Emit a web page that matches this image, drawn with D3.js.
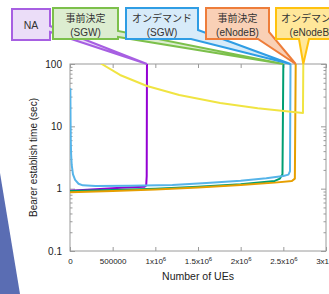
<!DOCTYPE html>
<html>
<head>
<meta charset="utf-8">
<script src="https://cdn.jsdelivr.net/npm/d3@7"></script>
<style>
body { margin: 0; background: #fff; }
svg { display: block; font-family: "Liberation Sans", Arial, "Noto Sans CJK JP", sans-serif; }
</style>
</head>
<body>
<div id="chart"></div>
<script>
// series (UEs -> bearer establish time in sec)
const naUEs   = [0, 300000, 600000, 870000, 893000, 899000, 902000];
const naTime  = [0.93, 0.98, 1.03, 1.07, 1.13, 1.6, 100];

const sgwPreUEs  = [0, 500000, 1000000, 1500000, 2000000, 2400000, 2460000, 2490000, 2500000];
const sgwPreTime = [0.92, 0.95, 1.0, 1.07, 1.18, 1.33, 1.45, 1.7, 100];

const sgwOnUEs  = [4000, 5000, 6500, 9000, 13000, 20000, 35000, 60000, 100000, 150000, 300000, 700000, 1200000, 1600000, 2000000, 2300000, 2500000, 2560000, 2578000, 2584000];
const sgwOnTime = [41, 25, 12, 6, 3.6, 2.4, 1.7, 1.38, 1.2, 1.13, 1.1, 1.11, 1.15, 1.23, 1.34, 1.47, 1.6, 1.68, 1.9, 100];

const enbPreUEs  = [0, 500000, 1000000, 1500000, 2000000, 2400000, 2600000, 2635000, 2645000];
const enbPreTime = [0.88, 0.92, 0.97, 1.04, 1.14, 1.25, 1.33, 1.45, 100];

const enbOnUEs  = [320000, 371000, 586000, 902000, 1280000, 1760000, 2200000, 2730000, 2734000];
const enbOnTime = [118, 100, 66.7, 44.4, 31.9, 23.7, 19.5, 16.4, 100];

const xTicks    = [0, 500000, 1000000, 1500000, 2000000, 2500000, 3000000];
const xTickBase = ["0", "500000", "1x10", "1.5x10", "2x10", "2.5x10", "3x10"];
const xTickExp  = ["", "", "6", "6", "6", "6", "6"];
const yTicks      = [0.1, 1, 10, 100];
const yTickLabels = ["0.1", "1", "10", "100"];

const calloutLine1 = ["NA", "事前決定", "オンデマンド", "事前決定", "オンデマンド"];
const calloutLine2 = ["", "(SGW)", "(SGW)", "(eNodeB)", "(eNodeB)"];

const seriesUEs  = [naUEs, sgwPreUEs, sgwOnUEs, enbPreUEs, enbOnUEs];
const seriesTime = [naTime, sgwPreTime, sgwOnTime, enbPreTime, enbOnTime];
const lineColors = ["#9400d3", "#009e73", "#56b4e9", "#e69f00", "#f0e442"];

// callout look and placement
const boxStroke = ["#a75fe2", "#7cc04b", "#2f9de4", "#ee7d3a", "#ffc20e"];
const boxFill   = ["#ebddf8", "#dcedd0", "#d7ebf9", "#f9d0b6", "#ffe79a"];
const boxes = [
    {x: 12,  y: 9, w: 38, h: 31, side: "right",  a: 17, b: 23},
    {x: 53,  y: 8, w: 65, h: 31, side: "right",  a: 23, b: 29},
    {x: 126, y: 8, w: 72, h: 31, side: "corner", a: 22, b: 65},
    {x: 206, y: 8, w: 63, h: 31, side: "corner", a: 24, b: 52},
    {x: 276, y: 8, w: 70, h: 31, side: "bottom", a: 23, b: 33}
];

var width = 329, height = 294;
var svg = d3.select("#chart").append("svg")
    .attr("width", width)
    .attr("height", height);

svg.append("rect").attr("width", width).attr("height", height).attr("fill", "#fff");

// decorative slide shape at the left
svg.append("path")
    .attr("d", "M0,173 L20,294 L0,294 Z")
    .attr("fill", "#5a6db3");

var xAxis = d3.scaleLinear().domain([0, 3000000]).range([70, 326]);
var yAxis = d3.scaleLog().domain([0.1, 100]).range([251, 64]);

var minor = [];
[0.1, 1, 10].forEach(p => d3.range(2, 10).forEach(k => minor.push(p * k)));

const grey = "#9a9a9a";

function styleAxis(g) {
    g.select(".domain").remove();
    g.selectAll(".tick line").attr("stroke", grey);
    g.selectAll(".tick text").attr("fill", "#222");
}

// bottom
svg.append("g")
    .attr("transform", `translate(0, ${yAxis(0.1)})`)
    .call(d3.axisBottom(xAxis).tickValues(xTicks).tickSize(-4).tickSizeOuter(0).tickPadding(7))
    .call(styleAxis)
    .call(g => g.selectAll(".tick text")
        .attr("font-size", 8)
        .text((d, i) => xTickBase[i])
        .each(function(d, i) {
            if (xTickExp[i]) d3.select(this).append("tspan")
                .attr("dy", "-0.45em").attr("font-size", 6).text(xTickExp[i]);
        }));
// top
svg.append("g")
    .attr("transform", `translate(0, ${yAxis(100)})`)
    .call(d3.axisTop(xAxis).tickValues(xTicks).tickSize(-4).tickSizeOuter(0).tickFormat(""))
    .call(styleAxis);
// left
svg.append("g")
    .attr("transform", `translate(${xAxis(0)}, 0)`)
    .call(d3.axisLeft(yAxis).tickValues(yTicks).tickSize(-5).tickSizeOuter(0).tickPadding(8)
        .tickFormat((d, i) => yTickLabels[i]))
    .call(styleAxis)
    .call(g => g.selectAll(".tick text").attr("font-size", 10));
svg.append("g")
    .attr("transform", `translate(${xAxis(0)}, 0)`)
    .call(d3.axisLeft(yAxis).tickValues(minor).tickSize(-2.5).tickSizeOuter(0).tickFormat(""))
    .call(styleAxis);
// right
svg.append("g")
    .attr("transform", `translate(${xAxis(3000000)}, 0)`)
    .call(d3.axisRight(yAxis).tickValues(yTicks).tickSize(-5).tickSizeOuter(0).tickFormat(""))
    .call(styleAxis);
svg.append("g")
    .attr("transform", `translate(${xAxis(3000000)}, 0)`)
    .call(d3.axisRight(yAxis).tickValues(minor).tickSize(-2.5).tickSizeOuter(0).tickFormat(""))
    .call(styleAxis);

// frame
svg.append("rect")
    .attr("x", xAxis(0)).attr("y", yAxis(100))
    .attr("width", xAxis(3000000) - xAxis(0))
    .attr("height", yAxis(0.1) - yAxis(100))
    .attr("fill", "none").attr("stroke", grey).attr("stroke-width", 1);

// axis titles
svg.append("text")
    .attr("x", (xAxis(0) + xAxis(3000000)) / 2).attr("y", 280)
    .attr("text-anchor", "middle").attr("font-size", 10.5).attr("fill", "#222")
    .text("Number of UEs");
svg.append("text")
    .attr("transform", `translate(37, ${(yAxis(0.1) + yAxis(100)) / 2}) rotate(-90)`)
    .attr("text-anchor", "middle").attr("font-size", 10).attr("fill", "#222")
    .text("Bearer establish time (sec)");

// lines
svg.append("clipPath").attr("id", "plotClip")
    .append("rect")
    .attr("x", xAxis(0)).attr("y", yAxis(100))
    .attr("width", xAxis(3000000) - xAxis(0))
    .attr("height", yAxis(0.1) - yAxis(100));

var line = d3.line()
    .x(d => xAxis(d[0]))
    .y(d => yAxis(d[1]));

seriesUEs.forEach((ues, i) => {
    svg.append("path")
        .datum(ues.map((u, j) => [u, seriesTime[i][j]]))
        .attr("clip-path", "url(#plotClip)")
        .attr("fill", "none")
        .attr("stroke", lineColors[i])
        .attr("stroke-width", 2)
        .attr("stroke-linejoin", "round")
        .attr("d", line);
});

// callouts pointing at the top of each curve
function calloutPath(c, tip) {
    const x0 = c.x, y0 = c.y, x1 = c.x + c.w, y1 = c.y + c.h;
    let pts;
    if (c.side === "right")
        pts = [[x0, y0], [x1, y0], [x1, y0 + c.a], tip, [x1, y0 + c.b], [x1, y1], [x0, y1]];
    else if (c.side === "corner")
        pts = [[x0, y0], [x1, y0], [x1, y0 + c.a], tip, [x0 + c.b, y1], [x0, y1]];
    else
        pts = [[x0, y0], [x1, y0], [x1, y1], [x0 + c.b, y1], tip, [x0 + c.a, y1], [x0, y1]];
    return d3.line()(pts) + "Z";
}

boxes.forEach((c, i) => {
    const tip = [xAxis(d3.max(seriesUEs[i])), yAxis(100)];
    svg.append("path")
        .attr("d", calloutPath(c, tip))
        .attr("fill", boxFill[i])
        .attr("stroke", boxStroke[i])
        .attr("stroke-width", 2)
        .attr("stroke-linejoin", "miter");
    const cx = c.x + c.w / 2;
    if (calloutLine2[i]) {
        svg.append("text").attr("x", cx).attr("y", c.y + 14)
            .attr("text-anchor", "middle").attr("font-size", 10).attr("fill", "#333")
            .text(calloutLine1[i]);
        svg.append("text").attr("x", cx).attr("y", c.y + 27.5)
            .attr("text-anchor", "middle").attr("font-size", 10).attr("fill", "#333")
            .text(calloutLine2[i]);
    } else {
        svg.append("text").attr("x", cx).attr("y", c.y + c.h / 2 + 4)
            .attr("text-anchor", "middle").attr("font-size", 10.5).attr("fill", "#333")
            .text(calloutLine1[i]);
    }
});
</script>
</body>
</html>
